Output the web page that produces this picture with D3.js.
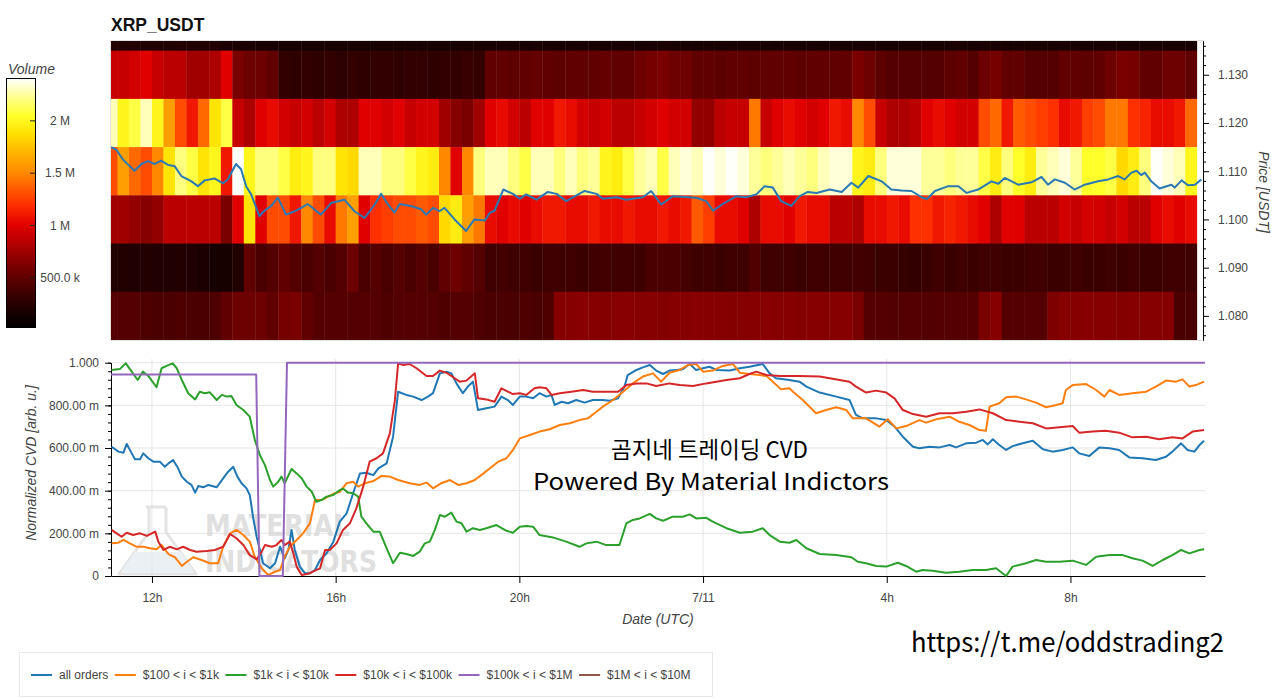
<!DOCTYPE html>
<html>
<head>
<meta charset="utf-8">
<script src="https://cdn.jsdelivr.net/npm/d3@7"></script>
<style>
  body { margin: 0; background: #fff; }
  svg text { font-family: "Liberation Sans", Helvetica, Arial, sans-serif; }
</style>
</head>
<body>
<svg id="chart" width="1280" height="698"></svg>
<script>
// ---- data (hours counted from 2021-07-10 00:00 UTC) ----
const priceLevels = [1.14, 1.13, 1.12, 1.11, 1.10, 1.09, 1.08];
const binStartHour = 11;       // first 15 min volume bin
const binHours = 0.25;

// traded volume per price level, in millions, one value per 15 min bin
const vol114 = [0.2,0.2,0.22,0.2,0.2,0.2,0.22,0.2,0.2,0.2,
  0.18,0.18,0.18,0.16,0.16,0.15,0.15,0.15,0.15,0.15,
  0.15,0.15,0.15,0.15,0.15,0.15,0.15,0.15,0.15,0.15,
  0.15,0.15,0.16,0.16,0.17,0.16,0.16,0.17,0.16,0.16,
  0.16,0.17,0.16,0.16,0.17,0.16,0.16,0.17,0.17,0.16,
  0.16,0.16,0.16,0.17,0.16,0.16,0.16,0.17,0.16,0.16,
  0.16,0.17,0.16,0.16,0.16,0.17,0.16,0.16,0.16,0.16,
  0.16,0.16,0.16,0.16,0.17,0.16,0.17,0.17,0.16,0.16,
  0.16,0.16,0.16,0.17,0.16,0.16,0.16,0.17,0.17,0.16,
  0.16,0.16,0.16,0.16,0.15];
const vol113 = [0.9,0.9,0.95,1.0,0.9,0.85,0.85,0.75,0.75,0.8,
  1.0,0.6,0.55,0.55,0.5,0.3,0.28,0.3,0.28,0.3,
  0.27,0.3,0.28,0.3,0.3,0.28,0.3,0.3,0.28,0.3,
  0.3,0.32,0.3,0.5,0.5,0.48,0.5,0.52,0.5,0.48,
  0.5,0.5,0.5,0.52,0.5,0.5,0.55,0.58,0.6,0.55,
  0.55,0.5,0.5,0.48,0.5,0.5,0.48,0.5,0.5,0.5,
  0.48,0.5,0.5,0.5,0.5,0.6,0.55,0.48,0.45,0.45,
  0.45,0.45,0.45,0.48,0.5,0.45,0.55,0.58,0.5,0.5,
  0.45,0.45,0.45,0.5,0.5,0.48,0.5,0.55,0.6,0.58,
  0.5,0.5,0.55,0.55,0.5];
const vol112 = [2.3,2.0,2.1,2.3,2.0,1.6,1.3,1.1,1.4,1.9,
  2.1,0.9,0.8,1.0,1.05,0.95,0.9,0.95,0.85,0.95,
  0.8,0.8,1.0,1.0,0.95,1.0,0.9,0.95,0.95,0.75,
  0.65,0.6,0.75,1.0,1.05,0.95,0.85,1.0,1.0,1.1,
  1.05,0.95,0.9,0.95,0.85,0.85,0.9,0.95,1.0,0.95,
  0.95,0.7,0.7,0.85,0.9,0.9,1.45,0.9,1.0,1.05,
  1.0,0.95,1.0,1.1,1.05,1.5,1.3,0.9,0.8,0.8,
  0.85,1.0,1.05,1.0,0.95,0.95,1.3,1.4,1.1,1.35,
  1.3,1.25,1.2,1.05,1.1,1.25,1.3,1.45,1.45,1.2,
  1.15,1.05,1.05,1.1,1.4];
const vol111 = [1.3,1.6,1.4,1.3,1.5,1.9,2.2,2.1,1.9,2.0,
  1.1,2.4,2.0,2.2,2.2,2.1,1.95,2.0,2.2,2.2,
  1.9,1.85,2.3,2.3,2.2,2.2,2.1,2.0,1.95,1.5,
  1.0,1.5,2.2,2.3,2.3,2.2,2.1,2.3,2.3,2.2,
  2.3,2.2,2.25,2.0,1.95,2.1,2.25,2.3,2.1,2.3,
  2.35,2.3,2.4,2.35,2.4,2.35,2.25,2.2,2.25,2.3,
  2.25,2.2,2.3,2.35,2.35,2.0,1.95,2.2,2.35,2.35,
  2.35,2.25,2.25,2.2,2.25,2.25,2.1,1.95,2.2,2.05,
  1.95,2.25,2.3,2.35,2.25,2.05,2.05,2.1,1.85,1.95,
  2.2,2.4,2.35,2.3,2.0];
const vol110 = [0.75,0.75,0.7,0.65,0.7,0.85,0.85,0.85,0.85,0.85,
  0.6,1.0,1.9,1.0,1.3,1.3,1.1,1.5,1.3,1.05,
  1.45,1.6,1.0,1.2,1.25,1.3,1.3,1.35,1.3,1.85,
  1.95,1.6,1.45,1.05,1.0,1.05,1.0,1.05,1.1,1.1,
  1.05,1.05,1.1,1.05,1.05,1.1,1.05,1.05,1.1,1.05,
  1.1,1.35,1.25,1.05,1.05,1.0,0.8,1.05,1.05,1.0,
  1.1,1.05,1.05,0.85,0.85,0.8,1.05,1.05,1.1,1.05,
  1.2,1.2,1.1,1.15,1.1,1.05,1.0,0.8,1.0,1.0,
  0.85,0.85,0.85,0.95,0.9,0.95,0.95,0.9,0.95,0.85,
  0.85,1.0,1.05,1.0,1.05];
const vol109 = [0.22,0.22,0.2,0.22,0.2,0.2,0.22,0.2,0.18,0.15,
  0.15,0.2,0.5,0.4,0.45,0.5,0.45,0.4,0.45,0.4,
  0.45,0.55,0.4,0.45,0.4,0.45,0.4,0.45,0.4,0.5,
  0.55,0.5,0.45,0.35,0.37,0.35,0.35,0.33,0.35,0.35,
  0.35,0.33,0.35,0.37,0.35,0.35,0.35,0.4,0.4,0.4,
  0.38,0.35,0.35,0.33,0.35,0.35,0.43,0.35,0.35,0.35,
  0.33,0.35,0.35,0.35,0.35,0.37,0.35,0.33,0.33,0.31,
  0.3,0.33,0.35,0.33,0.35,0.33,0.35,0.35,0.33,0.33,
  0.35,0.35,0.33,0.33,0.35,0.33,0.33,0.35,0.33,0.35,
  0.33,0.33,0.35,0.35,0.35];
const vol108 = [0.45,0.45,0.45,0.42,0.4,0.4,0.42,0.4,0.4,0.42,
  0.5,0.55,0.55,0.55,0.5,0.58,0.6,0.5,0.45,0.45,
  0.45,0.45,0.45,0.45,0.42,0.45,0.45,0.45,0.45,0.42,
  0.45,0.45,0.42,0.4,0.4,0.4,0.42,0.4,0.42,0.65,
  0.65,0.66,0.65,0.64,0.65,0.66,0.65,0.65,0.64,0.65,
  0.65,0.66,0.65,0.65,0.64,0.65,0.65,0.66,0.65,0.65,
  0.64,0.65,0.65,0.65,0.65,0.6,0.45,0.45,0.44,0.45,
  0.45,0.44,0.45,0.45,0.45,0.45,0.6,0.65,0.45,0.45,
  0.45,0.45,0.62,0.65,0.65,0.66,0.65,0.65,0.64,0.65,
  0.65,0.65,0.65,0.4,0.4];
const volRows = [vol114, vol113, vol112, vol111, vol110, vol109, vol108];

// price [hour, USDT]
const price = [[11.11,1.1150],[11.22,1.1145],[11.37,1.1124],[11.62,1.1101],[11.77,1.1115],[11.91,1.1121],[12.06,1.1115],[12.20,1.1122],[12.35,1.1113],[12.49,1.1111],[12.64,1.1090],[12.86,1.1079],[13.00,1.1069],[13.15,1.1081],[13.36,1.1085],[13.55,1.1075],[13.65,1.1083],[13.83,1.1115],[13.94,1.1104],[14.05,1.1069],[14.16,1.1052],[14.34,1.1007],[14.45,1.1018],[14.60,1.1028],[14.74,1.1045],[14.92,1.1010],[15.11,1.1017],[15.25,1.1024],[15.39,1.1032],[15.68,1.1010],[15.90,1.1034],[16.19,1.1041],[16.41,1.1017],[16.63,1.1003],[16.85,1.1031],[16.99,1.1053],[17.14,1.1031],[17.28,1.1014],[17.39,1.1032],[17.64,1.1028],[17.86,1.1021],[17.97,1.1010],[18.12,1.1024],[18.26,1.1017],[18.37,1.1024],[18.59,1.1000],[18.84,1.0976],[19.02,1.1000],[19.25,1.0998],[19.36,1.1014],[19.46,1.1018],[19.65,1.1062],[19.86,1.1053],[20.01,1.1043],[20.15,1.1052],[20.37,1.1041],[20.62,1.1057],[20.81,1.1053],[21.02,1.1038],[21.42,1.1059],[21.68,1.1053],[21.82,1.1043],[22.11,1.1046],[22.33,1.1041],[22.69,1.1046],[22.87,1.1059],[23.09,1.1031],[23.34,1.1048],[23.85,1.1045],[24.07,1.1038],[24.22,1.1018],[24.43,1.1032],[24.72,1.1048],[24.94,1.1046],[25.16,1.1052],[25.34,1.1069],[25.52,1.1066],[25.70,1.1038],[25.92,1.1028],[26.10,1.1048],[26.28,1.1057],[26.47,1.1055],[26.76,1.1062],[27.02,1.1057],[27.23,1.1076],[27.38,1.1066],[27.60,1.1090],[27.89,1.1079],[28.10,1.1062],[28.32,1.1060],[28.54,1.1059],[28.76,1.1046],[28.87,1.1042],[29.05,1.1059],[29.34,1.1069],[29.56,1.1069],[29.74,1.1055],[29.99,1.1062],[30.28,1.1079],[30.43,1.1074],[30.57,1.1086],[30.86,1.1072],[31.15,1.1077],[31.37,1.1088],[31.51,1.1072],[31.66,1.1083],[31.88,1.1076],[32.09,1.1062],[32.31,1.1072],[32.60,1.1079],[32.82,1.1083],[33.04,1.1090],[33.18,1.1083],[33.33,1.1097],[33.44,1.1101],[33.54,1.1092],[33.62,1.1097],[33.76,1.1079],[33.94,1.1064],[34.20,1.1072],[34.27,1.1066],[34.42,1.1081],[34.56,1.1071],[34.71,1.1072],[34.85,1.1083]];

// normalized CVD [hour, value]
const cvdAll = [[11.12,0.606],[11.27,0.583],[11.38,0.578],[11.45,0.619],[11.56,0.575],[11.63,0.547],[11.74,0.547],[11.81,0.575],[11.92,0.552],[12.03,0.536],[12.17,0.536],[12.28,0.512],[12.36,0.528],[12.46,0.544],[12.57,0.505],[12.65,0.466],[12.76,0.442],[12.86,0.427],[12.94,0.391],[13.01,0.422],[13.12,0.416],[13.23,0.427],[13.41,0.416],[13.55,0.458],[13.66,0.489],[13.77,0.512],[13.86,0.466],[13.95,0.435],[14.06,0.411],[14.13,0.380],[14.20,0.278],[14.28,0.184],[14.42,0.060],[14.57,0.036],[14.68,0.060],[14.79,0.137],[14.89,0.083],[14.97,0.122],[15.04,0.216],[15.11,0.122],[15.22,0.044],[15.33,0.013],[15.44,0.013],[15.55,0.028],[15.66,0.075],[15.80,0.106],[15.95,0.161],[16.09,0.255],[16.24,0.294],[16.38,0.388],[16.53,0.481],[16.67,0.484],[16.82,0.473],[16.93,0.505],[17.11,0.528],[17.25,0.653],[17.36,0.864],[17.54,0.849],[17.69,0.841],[17.87,0.825],[18.01,0.841],[18.12,0.857],[18.27,0.950],[18.41,0.958],[18.52,0.950],[18.63,0.903],[18.77,0.857],[18.88,0.888],[18.99,0.911],[19.10,0.778],[19.28,0.786],[19.46,0.794],[19.61,0.841],[19.75,0.825],[19.86,0.802],[20.01,0.841],[20.15,0.841],[20.30,0.833],[20.44,0.857],[20.59,0.841],[20.70,0.849],[20.77,0.802],[20.92,0.817],[21.06,0.810],[21.24,0.825],[21.42,0.813],[21.60,0.825],[21.82,0.825],[21.97,0.822],[22.15,0.833],[22.29,0.888],[22.36,0.942],[22.55,0.966],[22.69,0.978],[22.84,0.989],[22.98,0.963],[23.13,0.947],[23.27,0.963],[23.42,0.966],[23.56,0.969],[23.71,0.994],[23.85,0.966],[24.00,0.974],[24.14,0.981],[24.29,0.966],[24.58,0.963],[24.80,0.974],[25.01,0.981],[25.30,0.994],[25.45,0.950],[25.59,0.927],[25.88,0.919],[26.10,0.911],[26.25,0.888],[26.54,0.860],[26.90,0.841],[27.19,0.825],[27.33,0.755],[27.48,0.739],[27.77,0.739],[27.99,0.731],[28.17,0.700],[28.35,0.653],[28.57,0.606],[28.71,0.599],[28.93,0.606],[29.15,0.603],[29.37,0.614],[29.51,0.603],[29.73,0.622],[29.95,0.625],[30.09,0.638],[30.20,0.617],[30.31,0.641],[30.45,0.614],[30.60,0.591],[30.74,0.609],[30.96,0.622],[31.18,0.634],[31.40,0.594],[31.61,0.583],[31.83,0.591],[32.05,0.603],[32.19,0.575],[32.41,0.563],[32.63,0.603],[32.85,0.599],[33.06,0.591],[33.28,0.556],[33.57,0.552],[33.86,0.544],[34.08,0.559],[34.22,0.583],[34.41,0.622],[34.55,0.591],[34.70,0.583],[34.81,0.614],[34.91,0.634]];
const cvd100 = [[11.12,0.153],[11.27,0.156],[11.38,0.169],[11.52,0.153],[11.67,0.137],[11.81,0.137],[11.96,0.130],[12.10,0.125],[12.21,0.145],[12.36,0.103],[12.50,0.088],[12.65,0.047],[12.76,0.067],[12.90,0.088],[13.08,0.075],[13.26,0.060],[13.44,0.060],[13.55,0.137],[13.70,0.200],[13.84,0.216],[13.99,0.192],[14.13,0.161],[14.24,0.090],[14.39,0.036],[14.53,0.005],[14.68,0.020],[14.79,0.028],[14.89,0.090],[15.00,0.137],[15.15,0.169],[15.29,0.200],[15.44,0.247],[15.55,0.356],[15.69,0.356],[15.84,0.372],[15.98,0.388],[16.09,0.395],[16.24,0.435],[16.38,0.442],[16.49,0.419],[16.64,0.435],[16.82,0.445],[17.00,0.469],[17.18,0.466],[17.36,0.450],[17.61,0.435],[17.83,0.427],[17.98,0.438],[18.12,0.411],[18.30,0.435],[18.49,0.450],[18.67,0.427],[18.85,0.435],[19.03,0.450],[19.17,0.473],[19.36,0.505],[19.54,0.536],[19.72,0.552],[19.86,0.591],[20.01,0.645],[20.23,0.661],[20.44,0.677],[20.66,0.688],[20.88,0.708],[21.10,0.716],[21.31,0.731],[21.49,0.739],[21.68,0.770],[21.82,0.794],[22.04,0.825],[22.22,0.857],[22.47,0.903],[22.69,0.935],[22.91,0.950],[23.09,0.911],[23.27,0.953],[23.49,0.966],[23.67,0.989],[23.85,0.994],[24.00,0.958],[24.21,0.963],[24.43,0.985],[24.65,0.994],[24.80,0.953],[25.01,0.947],[25.23,0.942],[25.38,0.938],[25.52,0.911],[25.70,0.875],[25.88,0.880],[25.96,0.864],[26.17,0.825],[26.46,0.763],[26.68,0.778],[26.90,0.791],[27.12,0.778],[27.26,0.739],[27.55,0.739],[27.84,0.700],[28.02,0.735],[28.21,0.692],[28.42,0.703],[28.71,0.731],[28.86,0.719],[29.08,0.735],[29.37,0.747],[29.58,0.723],[29.80,0.708],[30.02,0.684],[30.16,0.681],[30.24,0.794],[30.45,0.810],[30.60,0.838],[30.82,0.841],[31.03,0.828],[31.25,0.813],[31.47,0.791],[31.69,0.802],[31.83,0.810],[31.90,0.872],[32.05,0.895],[32.34,0.900],[32.56,0.872],[32.74,0.841],[32.85,0.872],[33.06,0.849],[33.35,0.857],[33.65,0.864],[33.86,0.888],[34.08,0.916],[34.30,0.911],[34.44,0.922],[34.59,0.888],[34.73,0.895],[34.91,0.911]];
const cvd1k = [[11.12,0.966],[11.30,0.970],[11.43,0.997],[11.56,0.958],[11.69,0.919],[11.80,0.958],[11.92,0.938],[12.10,0.885],[12.21,0.974],[12.32,0.985],[12.45,0.997],[12.54,0.974],[12.65,0.919],[12.79,0.857],[12.94,0.828],[13.04,0.864],[13.15,0.857],[13.26,0.861],[13.41,0.825],[13.52,0.849],[13.63,0.841],[13.73,0.844],[13.84,0.802],[13.99,0.778],[14.13,0.747],[14.24,0.638],[14.35,0.567],[14.46,0.520],[14.57,0.450],[14.64,0.419],[14.75,0.442],[14.82,0.466],[14.89,0.435],[15.04,0.502],[15.15,0.481],[15.26,0.458],[15.37,0.419],[15.48,0.395],[15.58,0.348],[15.69,0.356],[15.80,0.372],[15.95,0.380],[16.09,0.403],[16.16,0.410],[16.27,0.391],[16.38,0.388],[16.49,0.372],[16.56,0.278],[16.67,0.247],[16.82,0.208],[16.96,0.208],[17.11,0.130],[17.25,0.060],[17.40,0.109],[17.54,0.103],[17.69,0.094],[17.83,0.114],[17.94,0.153],[18.05,0.161],[18.16,0.216],[18.27,0.286],[18.38,0.278],[18.52,0.297],[18.63,0.255],[18.74,0.247],[18.85,0.208],[18.99,0.224],[19.14,0.216],[19.28,0.224],[19.50,0.239],[19.72,0.212],[19.86,0.203],[20.01,0.231],[20.15,0.234],[20.30,0.231],[20.44,0.192],[20.73,0.181],[21.02,0.161],[21.31,0.137],[21.46,0.153],[21.68,0.161],[21.89,0.145],[22.18,0.145],[22.33,0.247],[22.47,0.263],[22.62,0.270],[22.84,0.291],[22.98,0.270],[23.13,0.259],[23.34,0.278],[23.56,0.278],[23.71,0.289],[23.85,0.270],[24.07,0.273],[24.21,0.255],[24.51,0.224],[24.80,0.203],[25.08,0.208],[25.30,0.224],[25.45,0.192],[25.67,0.161],[25.88,0.156],[26.03,0.169],[26.25,0.130],[26.54,0.103],[26.90,0.098],[27.23,0.088],[27.37,0.067],[27.55,0.060],[27.77,0.047],[27.99,0.044],[28.24,0.062],[28.42,0.047],[28.64,0.020],[28.78,0.028],[29.00,0.025],[29.29,0.015],[29.58,0.020],[29.87,0.028],[30.16,0.028],[30.38,0.036],[30.60,0.000],[30.74,0.044],[31.03,0.060],[31.25,0.075],[31.47,0.067],[31.76,0.067],[32.05,0.072],[32.34,0.052],[32.56,0.090],[32.85,0.098],[33.14,0.098],[33.35,0.083],[33.57,0.072],[33.79,0.047],[34.01,0.075],[34.22,0.098],[34.41,0.122],[34.59,0.106],[34.81,0.122],[34.91,0.125]];
const cvd10k = [[11.12,0.216],[11.23,0.200],[11.34,0.184],[11.45,0.203],[11.59,0.192],[11.74,0.200],[11.89,0.188],[12.07,0.208],[12.14,0.161],[12.25,0.122],[12.39,0.137],[12.54,0.125],[12.68,0.137],[12.83,0.122],[12.97,0.114],[13.19,0.117],[13.37,0.122],[13.55,0.137],[13.70,0.197],[13.84,0.177],[13.99,0.145],[14.13,0.098],[14.28,0.078],[14.39,0.114],[14.46,0.145],[14.61,0.137],[14.71,0.145],[14.82,0.169],[14.89,0.145],[15.00,0.161],[15.08,0.106],[15.15,0.044],[15.26,0.005],[15.37,0.009],[15.44,0.013],[15.55,0.025],[15.66,0.036],[15.77,0.122],[15.87,0.122],[16.02,0.153],[16.16,0.216],[16.31,0.247],[16.45,0.317],[16.60,0.419],[16.74,0.536],[16.89,0.552],[17.03,0.575],[17.18,0.669],[17.29,0.825],[17.36,0.997],[17.47,0.989],[17.61,0.994],[17.76,0.974],[17.98,0.938],[18.12,0.938],[18.27,0.963],[18.41,0.953],[18.56,0.932],[18.70,0.911],[18.85,0.916],[19.03,0.950],[19.10,0.833],[19.28,0.828],[19.46,0.817],[19.61,0.880],[19.75,0.864],[19.86,0.853],[20.01,0.857],[20.15,0.849],[20.33,0.880],[20.44,0.885],[20.59,0.880],[20.70,0.849],[20.88,0.857],[21.13,0.864],[21.39,0.872],[21.60,0.864],[21.89,0.864],[22.15,0.864],[22.33,0.895],[22.55,0.903],[22.77,0.903],[22.98,0.891],[23.27,0.903],[23.49,0.895],[23.78,0.891],[24.07,0.903],[24.29,0.911],[24.51,0.919],[24.80,0.927],[25.01,0.947],[25.16,0.958],[25.38,0.942],[25.67,0.938],[26.10,0.938],[26.54,0.935],[27.19,0.911],[27.33,0.888],[27.55,0.860],[27.77,0.869],[27.99,0.860],[28.17,0.833],[28.35,0.778],[28.57,0.759],[28.86,0.747],[29.15,0.763],[29.44,0.763],[29.73,0.770],[30.02,0.781],[30.31,0.763],[30.60,0.731],[30.89,0.723],[31.18,0.716],[31.47,0.692],[31.76,0.697],[32.05,0.703],[32.19,0.672],[32.48,0.677],[32.77,0.681],[33.06,0.672],[33.35,0.650],[33.65,0.653],[33.93,0.641],[34.22,0.650],[34.44,0.645],[34.66,0.677],[34.91,0.684]];
const cvd100k = [[11.11,0.945],[14.27,0.945],[14.34,0],[14.85,0],[14.94,1.0],[34.93,1.0]];
const cvd1M = [];

const seriesNames = ["all orders", "$100 < i < $1k", "$1k < i < $10k", "$10k < i < $100k", "$100k < i < $1M", "$1M < i < $10M"];
const seriesData = [cvdAll, cvd100, cvd1k, cvd10k, cvd100k, cvd1M];
const seriesColors = ["#1f77b4", "#ff7f0e", "#2ca02c", "#d62728", "#9467bd", "#8c564b"];

const priceTicks = [1.08, 1.09, 1.10, 1.11, 1.12, 1.13];
const cvdTicks = [0, 0.2, 0.4, 0.6, 0.8, 1.0];
const volTicks = [0.5, 1, 1.5, 2];

// "fire" like palette for volume
const heatStops = [0.02, 0.26, 0.5, 0.75, 1.0, 1.2, 1.35, 1.5, 1.7, 1.88, 2.05, 2.25, 2.41];
const heatColors = ["#000000","#2a0000","#600000","#a00000","#e00000","#ff3000","#ff5a00","#ff8800","#ffb400","#ffe000","#ffff2a","#ffff9a","#ffffff"];

// ---- scales ----
const day0 = Date.UTC(2021, 6, 10);
const toDate = h => new Date(day0 + h * 3600e3);

const x = d3.scaleUtc().domain([toDate(11.108), toDate(34.93)]).range([111, 1205]);
const yPrice = d3.scaleLinear().domain([1.075, 1.137]).range([340, 41]);
const yCvd = d3.scaleLinear().domain([0, 1]).range([576, 362.7]);
const yVol = d3.scaleLinear().domain([0.02, 2.41]).range([328, 78]);
const color = d3.scaleLinear().domain(heatStops).range(heatColors).clamp(true);

const svg = d3.select("#chart");
const defs = svg.append("defs");
defs.append("clipPath").attr("id", "clipTop")
  .append("rect").attr("x", 111).attr("y", 41).attr("width", 1093).attr("height", 299);

// ---- title ----
svg.append("text").attr("x", 111).attr("y", 31)
  .style("font-weight", "bold").style("font-size", "17.5px").attr("fill", "#111")
  .text("XRP_USDT");

// ---- heatmap ----
const cells = [];
volRows.forEach((row, r) => row.forEach((v, i) => cells.push({ p: priceLevels[r], i, v })));

const heat = svg.append("g").attr("clip-path", "url(#clipTop)");
heat.selectAll("rect").data(cells).join("rect")
  .attr("x", d => x(toDate(binStartHour + d.i * binHours)))
  .attr("width", d => x(toDate(binStartHour + (d.i + 1) * binHours)) - x(toDate(binStartHour + d.i * binHours)) + 0.4)
  .attr("y", d => yPrice(d.p + 0.005))
  .attr("height", d => yPrice(d.p - 0.005) - yPrice(d.p + 0.005) + 0.4)
  .attr("fill", d => color(d.v));

heat.append("path").datum(price)
  .attr("fill", "none").attr("stroke", "#2a78b4").attr("stroke-width", 2)
  .attr("stroke-linejoin", "round")
  .attr("d", d3.line().x(d => x(toDate(d[0]))).y(d => yPrice(d[1])));

svg.append("rect").attr("x", 110.5).attr("y", 40.5).attr("width", 1093).attr("height", 300)
  .attr("fill", "none").attr("stroke", "#e2e2e2");

// right price axis
const minorPrice = d3.range(1.076, 1.1371, 0.002).filter(v => Math.abs(v * 100 - Math.round(v * 100)) > 1e-6);
svg.append("g").attr("transform", "translate(1203,0)")
  .call(d3.axisRight(yPrice).tickValues(minorPrice).tickFormat("").tickSize(3).tickSizeOuter(0));
const pAxis = svg.append("g").attr("transform", "translate(1203,0)")
  .call(d3.axisRight(yPrice).tickValues(priceTicks).tickFormat(d3.format(".3f")).tickSize(6).tickSizeOuter(0).tickPadding(9));
pAxis.selectAll("text").style("font-size", "12px").attr("fill", "#444");

svg.append("text").attr("transform", "translate(1259,192) rotate(90)")
  .attr("text-anchor", "middle").style("font-size", "14px").style("font-style", "italic")
  .attr("fill", "#444").text("Price [USDT]");

// ---- colour bar ----
const grad = defs.append("linearGradient").attr("id", "volGrad")
  .attr("x1", 0).attr("y1", 1).attr("x2", 0).attr("y2", 0);
grad.selectAll("stop").data(heatStops).join("stop")
  .attr("offset", d => (d - heatStops[0]) / (heatStops[heatStops.length - 1] - heatStops[0]))
  .attr("stop-color", d => color(d));

svg.append("text").attr("x", 8).attr("y", 74)
  .style("font-size", "14px").style("font-style", "italic").attr("fill", "#444").text("Volume");
svg.append("rect").attr("x", 6.5).attr("y", 78.5).attr("width", 29).attr("height", 249)
  .attr("fill", "url(#volGrad)").attr("stroke", "#000");
svg.append("g").selectAll("line").data(volTicks).join("line")
  .attr("x1", 30).attr("x2", 36).attr("y1", d => yVol(d)).attr("y2", d => yVol(d))
  .attr("stroke", "#222");
svg.append("g").selectAll("text").data(volTicks).join("text")
  .attr("x", 60).attr("y", d => yVol(d)).attr("dy", "0.35em").attr("text-anchor", "middle")
  .style("font-size", "12px").attr("fill", "#444")
  .text(d => d < 1 ? (d * 1000).toFixed(1) + " k" : d + " M");

// ---- CVD panel ----
const grid = svg.append("g").attr("stroke", "#e6e6e6");
grid.selectAll("line.h").data(cvdTicks.slice(1)).join("line").attr("class", "h")
  .attr("x1", 111).attr("x2", 1205).attr("y1", d => yCvd(d)).attr("y2", d => yCvd(d));
grid.selectAll("line.v").data(x.ticks(d3.utcHour.every(4))).join("line").attr("class", "v")
  .attr("x1", d => x(d)).attr("x2", d => x(d)).attr("y1", 359).attr("y2", 576);

// watermark
const wm = svg.append("g").attr("opacity", 0.75);
wm.append("path")
  .attr("d", "M146,507 L166,507 M149,507 L149,532 L119,574 L196,574 L166,532 L166,507")
  .attr("fill", "none").attr("stroke", "#dcdcdc").attr("stroke-width", 3).attr("stroke-linejoin", "round");
wm.append("path").attr("d", "M135,552 L181,552 L194,572 L121,572 Z").attr("fill", "#e3ebf1");
wm.append("text").attr("x", 205).attr("y", 536).attr("textLength", 145).attr("lengthAdjust", "spacingAndGlyphs")
  .style("font-family", "'Liberation Sans Narrow','DejaVu Sans Condensed',sans-serif")
  .style("font-weight", "bold").style("font-size", "30px").attr("fill", "#d6d6d6").text("MATERIAL");
wm.append("text").attr("x", 205).attr("y", 572).attr("textLength", 172).attr("lengthAdjust", "spacingAndGlyphs")
  .style("font-family", "'Liberation Sans Narrow','DejaVu Sans Condensed',sans-serif")
  .style("font-weight", "bold").style("font-size", "30px").attr("fill", "#d6d6d6").text("INDICATORS");

// axes
const fmtCvd = v => v === 0 ? "0" : v === 1 ? "1.000" : (v * 1000).toFixed(2) + " m";
svg.append("g").attr("transform", "translate(111,0)")
  .call(d3.axisLeft(yCvd).tickValues(d3.range(0, 1.001, 0.04)).tickFormat("").tickSize(3).tickSizeOuter(0));
const yAx = svg.append("g").attr("transform", "translate(111,0)")
  .call(d3.axisLeft(yCvd).tickValues(cvdTicks).tickFormat(fmtCvd).tickSize(6).tickSizeOuter(0).tickPadding(6));
yAx.selectAll("text").style("font-size", "12px").attr("fill", "#444");

const fmtTime = d => d.getUTCHours() === 0 ? d3.utcFormat("%-m/%-d")(d) : d3.utcFormat("%-H")(d) + "h";
const xAx = svg.append("g").attr("transform", "translate(0,576)")
  .call(d3.axisBottom(x).ticks(d3.utcHour.every(4)).tickFormat(fmtTime).tickSize(7).tickSizeOuter(0).tickPadding(10));
xAx.selectAll("text").style("font-size", "12px").attr("fill", "#444");

svg.append("text").attr("x", 658).attr("y", 624).attr("text-anchor", "middle")
  .style("font-size", "14px").style("font-style", "italic").attr("fill", "#444").text("Date (UTC)");
svg.append("text").attr("transform", "translate(36,463) rotate(-90)").attr("text-anchor", "middle")
  .style("font-size", "14px").style("font-style", "italic").attr("fill", "#444").text("Normalized CVD [arb. u.]");

// lines
const cvdLine = d3.line().x(d => x(toDate(d[0]))).y(d => yCvd(d[1]));
svg.append("g").selectAll("path").data(seriesData).join("path")
  .attr("fill", "none").attr("stroke", (d, i) => seriesColors[i]).attr("stroke-width", 2)
  .attr("stroke-linejoin", "round")
  .attr("d", d => d.length ? cvdLine(d) : null);

// overlay texts
const koFont = "'Noto Sans CJK KR','Noto Sans',sans-serif";
svg.append("text").attr("x", 611).attr("y", 458).attr("textLength", 197).attr("lengthAdjust", "spacingAndGlyphs")
  .style("font-family", koFont).style("font-size", "23px").attr("fill", "#000").text("곰지네 트레이딩 CVD");
svg.append("text").attr("x", 533).attr("y", 490).attr("textLength", 356).attr("lengthAdjust", "spacingAndGlyphs")
  .style("font-family", koFont).style("font-size", "23px").attr("fill", "#000").text("Powered By Material Indictors");
svg.append("text").attr("x", 911).attr("y", 652).attr("textLength", 313).attr("lengthAdjust", "spacingAndGlyphs")
  .style("font-family", koFont).style("font-size", "27px").attr("fill", "#000").text("https://t.me/oddstrading2");

// ---- legend ----
svg.append("rect").attr("x", 19.5).attr("y", 652.5).attr("width", 693).attr("height", 44)
  .attr("fill", "#fff").attr("stroke", "#e8e8e8");
const legend = svg.append("g");
let lx = 31;
seriesNames.forEach((name, i) => {
  legend.append("line").attr("x1", lx).attr("x2", lx + 21).attr("y1", 675).attr("y2", 675)
    .attr("stroke", seriesColors[i]).attr("stroke-width", 2);
  const t = legend.append("text").attr("x", lx + 28).attr("y", 675).attr("dy", "0.35em")
    .style("font-size", "12px").attr("fill", "#444").text(name);
  lx += 28 + t.node().getComputedTextLength() + 6.5;
});
</script>
</body>
</html>
